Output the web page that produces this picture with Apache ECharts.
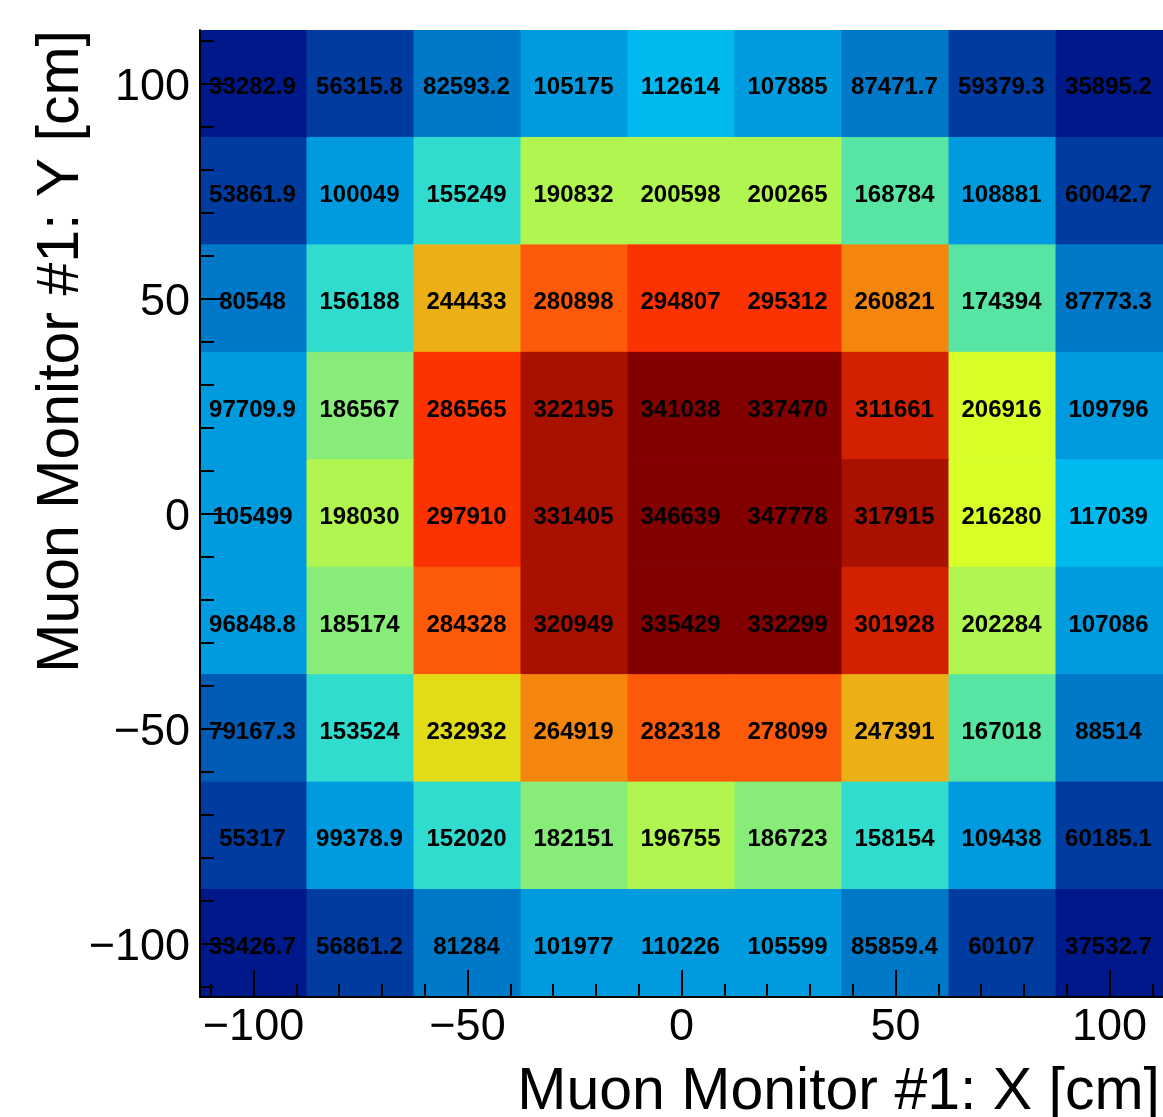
<!DOCTYPE html>
<html>
<head>
<meta charset="utf-8">
<script src="https://cdn.jsdelivr.net/npm/echarts@6/dist/echarts.min.js"></script>
<style>
html, body { margin: 0; padding: 0; background: #fff; }
#main { width: 1163px; height: 1117px; }
</style>
</head>
<body>
<div id="main"></div>
<script>
// bin centres [cm]
var xBins = [-100, -75, -50, -25, 0, 25, 50, 75, 100];
var yBins = [100, 75, 50, 25, 0, -25, -50, -75, -100];
var binHalf = 12.5;

// bin contents, one row per y bin (top to bottom)
var rowY100 = [33282.9, 56315.8, 82593.2, 105175, 112614, 107885, 87471.7, 59379.3, 35895.2];
var rowY75 = [53861.9, 100049, 155249, 190832, 200598, 200265, 168784, 108881, 60042.7];
var rowY50 = [80548, 156188, 244433, 280898, 294807, 295312, 260821, 174394, 87773.3];
var rowY25 = [97709.9, 186567, 286565, 322195, 341038, 337470, 311661, 206916, 109796];
var rowY0 = [105499, 198030, 297910, 331405, 346639, 347778, 317915, 216280, 117039];
var rowYm25 = [96848.8, 185174, 284328, 320949, 335429, 332299, 301928, 202284, 107086];
var rowYm50 = [79167.3, 153524, 232932, 264919, 282318, 278099, 247391, 167018, 88514];
var rowYm75 = [55317, 99378.9, 152020, 182151, 196755, 186723, 158154, 109438, 60185.1];
var rowYm100 = [33426.7, 56861.2, 81284, 101977, 110226, 105599, 85859.4, 60107, 37532.7];
var rows = [rowY100, rowY75, rowY50, rowY25, rowY0, rowYm25, rowYm50, rowYm75, rowYm100];

// axis ticks
var majorTicks = [-100, -50, 0, 50, 100];
var minorTicks = [-110, -100, -90, -80, -70, -60, -50, -40, -30, -20, -10, 0,
	10, 20, 30, 40, 50, 60, 70, 80, 90, 100, 110];

// 20 contour colours
var palette = ['#00198a', '#003c9f', '#005bb5', '#0078c8', '#009ade', '#00b9ef', '#18cce0',
	'#30dcce', '#58e4a2', '#88ec78', '#b0f550', '#d8ff28', '#e2dc18', '#ecb016',
	'#f4860e', '#fc5a08', '#fc3200', '#d22000', '#a81000', '#820000'];

var data = [];
var zMin = Infinity, zMax = -Infinity;
for (var r = 0; r < rows.length; r++) {
	for (var c = 0; c < xBins.length; c++) {
		data.push([xBins[c], yBins[r], rows[r][c]]);
		zMin = Math.min(zMin, rows[r][c]);
		zMax = Math.max(zMax, rows[r][c]);
	}
}
var step = (zMax - zMin) / palette.length;
var pieces = [];
for (var i = 0; i < palette.length; i++) {
	var p = { gte: zMin + i * step, color: palette[i] };
	if (i < palette.length - 1) p.lt = zMin + (i + 1) * step;
	pieces.push(p);
}

var fontName = 'Liberation Sans';

function tickLabel(v) {
	return v < 0 ? '\u2212' + (-v) : String(v);
}

function renderCell(params, api) {
	var x = api.value(0), y = api.value(1), v = api.value(2);
	var p0 = api.coord([x - binHalf, y + binHalf]);
	var p1 = api.coord([x + binHalf, y - binHalf]);
	var color = api.visual('color');
	return {
		type: 'group',
		children: [{
			type: 'rect',
			shape: { x: p0[0], y: p0[1], width: p1[0] - p0[0], height: p1[1] - p0[1] },
			style: { fill: color, stroke: color, lineWidth: 1 }
		}, {
			type: 'text',
			x: (p0[0] + p1[0]) / 2 - 1,
			y: (p0[1] + p1[1]) / 2 + 4,
			style: {
				text: String(v),
				fill: '#000',
				fontSize: 24,
				fontWeight: 'bold',
				fontFamily: fontName,
				align: 'center',
				verticalAlign: 'middle'
			}
		}]
	};
}

function makeAxis(ticks, len, showLine, showLabel) {
	return {
		type: 'value',
		min: -112.5,
		max: 112.5,
		z: 10,
		splitLine: { show: false },
		axisLine: { show: showLine, onZero: false, lineStyle: { color: '#000', width: 2 } },
		axisTick: { show: true, inside: true, length: len, customValues: ticks, lineStyle: { color: '#000', width: 2 } },
		axisLabel: { show: showLabel, customValues: majorTicks, formatter: tickLabel,
			color: '#000', fontSize: 45, fontFamily: fontName }
	};
}

var xMajor = makeAxis(majorTicks, 27, true, true);
xMajor.position = 'bottom';
xMajor.axisLabel.margin = 8;
var xMinor = makeAxis(minorTicks, 13, false, false);
xMinor.position = 'bottom';
var yMajor = makeAxis(majorTicks, 27, true, true);
yMajor.position = 'left';
yMajor.axisLabel.margin = 10;
yMajor.axisLabel.verticalAlign = 'top';
yMajor.axisLabel.lineHeight = 8;
var yMinor = makeAxis(minorTicks, 14, false, false);
yMinor.position = 'left';

var chart = echarts.init(document.getElementById('main'));
var option = {
	animation: false,
	grid: { left: 200, top: 30, right: 0, bottom: 120, containLabel: false },
	xAxis: [xMajor, xMinor],
	yAxis: [yMajor, yMinor],
	visualMap: {
		type: 'piecewise',
		show: false,
		dimension: 2,
		pieces: pieces
	},
	graphic: [{
		type: 'text',
		x: 1160,
		y: 1093,
		style: { text: 'Muon Monitor #1: X [cm]', align: 'right', verticalAlign: 'middle',
			fontSize: 59, fontFamily: fontName, fill: '#000' }
	}, {
		type: 'text',
		x: 62,
		y: 30,
		rotation: Math.PI / 2,
		style: { text: 'Muon Monitor #1: Y [cm]', align: 'right', verticalAlign: 'middle',
			fontSize: 59, fontFamily: fontName, fill: '#000' }
	}],
	series: [{
		type: 'custom',
		renderItem: renderCell,
		data: data,
		clip: true
	}]
};
chart.setOption(option);
</script>
</body>
</html>
